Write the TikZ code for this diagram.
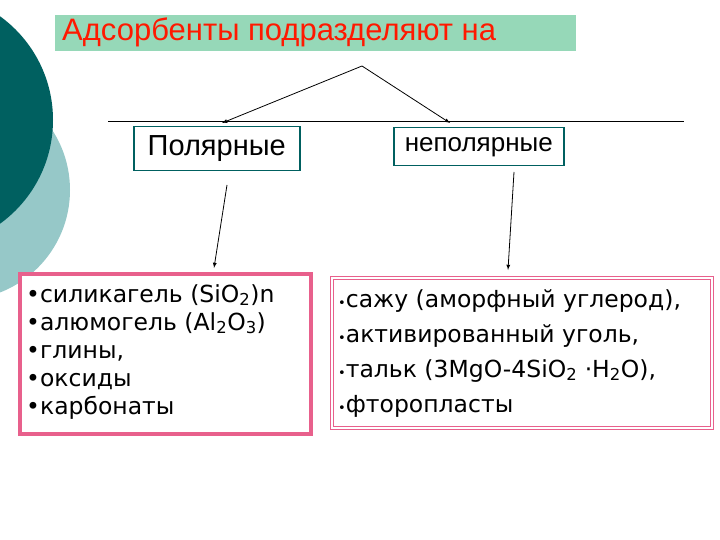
\documentclass[tikz,border=0pt]{standalone}
\usepackage{fontspec}
\setmainfont{Liberation Sans}
\newfontfamily\dv{DejaVu Sans}
\definecolor{pk}{RGB}{232,96,140}
\definecolor{lc}{RGB}{150,200,200}
\definecolor{dc}{RGB}{0,96,96}
\definecolor{tg}{RGB}{150,216,184}
\begin{document}
\begin{tikzpicture}[x=1pt,y=-1pt,
  hbox/.style={draw=dc,line width=1.5pt,fill=white,minimum height=44pt,inner sep=0pt},
  pbox/.style={draw=pk,line width=3.5pt,fill=white,align=left,anchor=north west,inner sep=0pt},
  arr/.style={-latex,line width=0.8pt}]
\useasboundingbox (0,0) rectangle (720,540);
\fill[white] (0,0) rectangle (720,540);
\begin{scope}
\clip (0,0) rectangle (720,540);
\fill[lc] (-40,190) circle (110);
\fill[dc] (-75,120) circle (128);
\end{scope}
\node[fill=tg,minimum width=521pt,minimum height=36pt,anchor=north west,inner sep=0pt] (t) at (55,15) {};
\node[anchor=west,text=red!80!orange,font=\fontsize{31}{34}\selectfont,inner sep=0pt] (tt) at (62,32) {Адсорбенты подразделяют на};
\coordinate (apex) at (362,66);
\coordinate (hl) at (108,121); \coordinate (hr) at (684,121);
\draw[line width=0.7pt] (hl) -- (hr);
\coordinate (a1) at (222,123); \coordinate (a2) at (450,123);
\draw[arr] (apex) -- (a1);
\draw[arr] (apex) -- (a2);
\node[hbox,minimum width=166pt,anchor=north west,font=\fontsize{29}{30}\selectfont] (p) at (133,126) {Полярные};
\node[hbox,minimum width=170pt,minimum height=38pt,anchor=north west,font=\fontsize{26}{28}\selectfont] (np) at (393,127) {неполярные};
\node[pbox,minimum width=291pt,minimum height=160pt] (lb) at (18,272) {};
\node[anchor=north west,align=left,font=\dv\fontsize{23.5}{28}\selectfont,inner sep=0pt] (lt) at (26,284) {•силикагель (SiO\textsubscript{2})n\\•алюмогель (Al\textsubscript{2}O\textsubscript{3})\\•глины,\\•оксиды\\•карбонаты};
\node[pbox,line width=1.5pt,double=white,double distance=1.5pt,minimum width=380pt,minimum height=150pt] (rb) at (331,277) {};
\node[anchor=north west,align=left,font=\dv\fontsize{23.5}{35}\selectfont,inner sep=0pt] (rt) at (338,289) {{\fontsize{13}{13}\selectfont•}сажу (аморфный углерод),\\{\fontsize{13}{13}\selectfont•}активированный уголь,\\{\fontsize{13}{13}\selectfont•}тальк (3MgO-4SiO\textsubscript{2} ·H\textsubscript{2}O),\\{\fontsize{13}{13}\selectfont•}фторопласты};
\coordinate (s1) at (227,185); \coordinate (e1) at (214,268);
\coordinate (s2) at (514,172); \coordinate (e2) at (508,270);
\draw[arr] (s1) -- (e1);
\draw[arr] (s2) -- (e2);
\end{tikzpicture}
\end{document}
